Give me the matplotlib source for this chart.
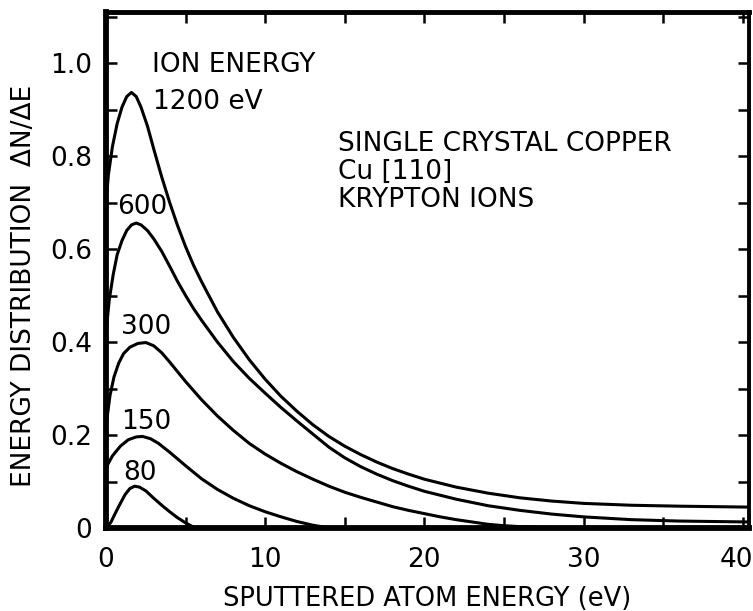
import matplotlib
matplotlib.use("Agg")
import matplotlib.pyplot as plt
import matplotlib.transforms as mtransforms
from matplotlib.ticker import MultipleLocator

# data (x in eV, y = dN/dE)
x1200 = [0.0, 0.15, 0.4, 0.7, 1.0, 1.3, 1.6, 1.9, 2.2, 2.6, 3.0, 3.5, 4.0, 4.5, 5.0, 5.5, 6.0,
         7.0, 8.0, 9.0, 10.0, 11.0, 12.0, 13.0, 14.0, 15.0, 16.0, 17.0, 18.0, 19.0, 20.0,
         22.0, 24.0, 26.0, 28.0, 30.0, 33.0, 36.0, 40.4]
y1200 = [0.70, 0.76, 0.82, 0.87, 0.905, 0.928, 0.937, 0.928, 0.905, 0.865, 0.815, 0.755, 0.70,
         0.65, 0.605, 0.565, 0.53, 0.465, 0.41, 0.362, 0.32, 0.283, 0.251, 0.222, 0.197, 0.176,
         0.158, 0.142, 0.128, 0.116, 0.105, 0.088, 0.075, 0.065, 0.058, 0.053, 0.049, 0.047,
         0.045]

x600 = [0.0, 0.2, 0.45, 0.7, 1.0, 1.3, 1.6, 1.9, 2.2, 2.6, 3.0, 3.5, 4.0, 4.5, 5.0, 5.5, 6.0,
        7.0, 8.0, 9.0, 10.0, 11.0, 12.0, 13.0, 14.0, 15.0, 16.0, 17.0, 18.0, 19.0, 20.0,
        22.0, 24.0, 26.0, 28.0, 30.0, 33.0, 36.0, 40.4]
y600 = [0.42, 0.49, 0.545, 0.588, 0.618, 0.64, 0.652, 0.656, 0.652, 0.64, 0.622, 0.595, 0.563,
        0.53, 0.50, 0.472, 0.447, 0.40, 0.358, 0.322, 0.29, 0.259, 0.23, 0.202, 0.174, 0.151,
        0.132, 0.116, 0.102, 0.09, 0.079, 0.062, 0.048, 0.038, 0.030, 0.024, 0.018, 0.015,
        0.013]

x300 = [0.0, 0.25, 0.5, 0.8, 1.1, 1.5, 2.0, 2.5, 3.0, 3.5, 4.0, 4.5, 5.0, 6.0, 7.0, 8.0, 9.0,
        10.0, 11.0, 12.0, 13.0, 14.0, 15.0, 16.0, 17.0, 18.0, 19.0, 20.0, 21.0, 22.0, 23.0,
        24.0, 25.0, 26.0, 28.0, 30.0, 40.4]
y300 = [0.22, 0.285, 0.325, 0.355, 0.375, 0.389, 0.397, 0.399, 0.392, 0.377, 0.357, 0.336,
        0.315, 0.276, 0.241, 0.21, 0.182, 0.159, 0.139, 0.121, 0.105, 0.09, 0.077, 0.066,
        0.056, 0.046, 0.038, 0.031, 0.024, 0.018, 0.013, 0.008, 0.005, 0.003, 0.001, 0.0, 0.0]

x150 = [0.0, 0.4, 0.9, 1.4, 1.9, 2.3, 2.8, 3.3, 4.0, 5.0, 6.0, 7.0, 8.0, 9.0, 10.0, 11.0,
        12.0, 13.0, 13.7, 14.3]
y150 = [0.13, 0.155, 0.176, 0.19, 0.196, 0.197, 0.192, 0.182, 0.163, 0.134, 0.106, 0.083,
        0.064, 0.048, 0.035, 0.024, 0.014, 0.006, 0.002, 0.0]

x80 = [0.0, 0.3, 0.6, 0.9, 1.2, 1.5, 1.8, 2.1, 2.5, 3.0, 3.5, 4.0, 4.5, 5.0, 5.6]
y80 = [0.0, 0.012, 0.033, 0.053, 0.072, 0.085, 0.09, 0.088, 0.08, 0.064, 0.049, 0.035, 0.022,
       0.011, 0.0]

curves = [(x1200, y1200), (x600, y600), (x300, y300), (x150, y150), (x80, y80)]
curve_labels = ["600", "300", "150", "80"]
label_pos = [(2.28, 0.69), (2.5, 0.432), (2.5, 0.228), (2.15, 0.119)]

plt.rcParams['font.family'] = ['DejaVu Sans']

fig = plt.figure(figsize=(7.53, 6.11), dpi=100)
ax = fig.add_axes([0.1408, 0.1358, 0.8540, 0.8446])

for xs, ys in curves:
    ax.plot(xs, ys, color="black", linewidth=2.2, solid_joinstyle="round")

for lab, (lx, ly) in zip(curve_labels, label_pos):
    ax.text(lx, ly, lab, fontsize=19, ha="center", va="center")

ax.text(2.9, 0.996, "ION ENERGY", fontsize=19, ha="left", va="center")
ax.text(2.95, 0.916, "1200 eV", fontsize=19, ha="left", va="center")
ax.text(14.6, 0.826, "SINGLE CRYSTAL COPPER", fontsize=19, ha="left", va="center")
ax.text(14.6, 0.766, "Cu [110]", fontsize=19, ha="left", va="center")
ax.text(14.6, 0.706, "KRYPTON IONS", fontsize=19, ha="left", va="center")

ax.set_xlim(0, 40.4)
ax.set_ylim(0, 1.11)
ax.set_xticks([0, 10, 20, 30, 40])
ax.set_xticklabels(["0", "10", "20", "30", "40"])
ax.set_yticks([0, 0.2, 0.4, 0.6, 0.8, 1.0])
ax.set_yticklabels(["0", "0.2", "0.4", "0.6", "0.8", "1.0"])
ax.xaxis.set_minor_locator(MultipleLocator(5))
ax.yaxis.set_minor_locator(MultipleLocator(0.1))
ax.tick_params(axis="both", which="both", direction="in", top=True, right=True,
               labelsize=19, width=1.8, length=8, color="black")
ax.tick_params(axis="x", which="major", pad=14)
ax.tick_params(axis="y", which="major", pad=10)

# last x label sits on the image edge, nudge it in a little
lbl40 = ax.get_xticklabels()[-1]
lbl40.set_transform(lbl40.get_transform() +
                    mtransforms.ScaledTranslation(-6 / 100, 0, fig.dpi_scale_trans))

ax.spines["left"].set_linewidth(4.2)
ax.spines["bottom"].set_linewidth(4.2)
ax.spines["top"].set_linewidth(3.5)
ax.spines["right"].set_linewidth(2.8)

ax.set_xlabel("SPUTTERED ATOM ENERGY (eV)", fontsize=18.5)
ax.xaxis.set_label_coords(0.5, -0.112)
ax.set_ylabel("ENERGY DISTRIBUTION  ΔN/ΔE", fontsize=19)
ax.yaxis.set_label_coords(-0.107, 0.469)

fig.savefig("out.png", dpi=100)
